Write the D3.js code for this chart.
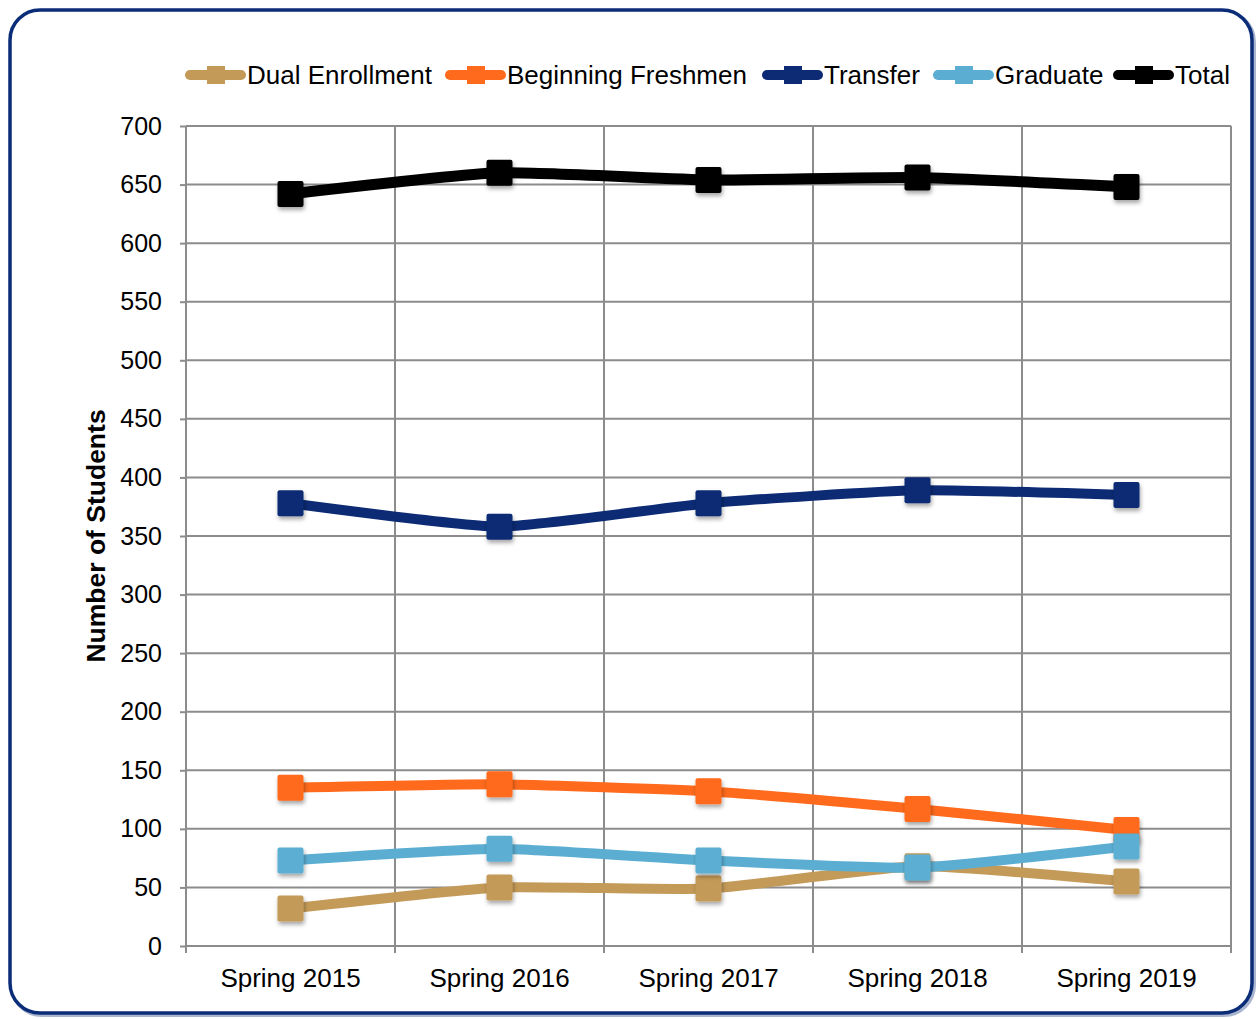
<!DOCTYPE html>
<html>
<head>
<meta charset="utf-8">
<script src="https://cdn.jsdelivr.net/npm/d3@7"></script>
<style>
  body { margin: 0; background: #fff; }
  svg { display: block; font-family: "Liberation Sans", Arial, sans-serif; }
</style>
</head>
<body>
<svg id="chart" width="1260" height="1019"></svg>
<script>
// chart values
const terms = ["Spring 2015", "Spring 2016", "Spring 2017", "Spring 2018", "Spring 2019"];
const seriesNames = ["Dual Enrollment", "Beginning Freshmen", "Transfer", "Graduate", "Total"];
const dualEnrollment = [32, 50, 49, 68, 55];
const beginningFreshmen = [135, 138, 132, 117, 99];
const transfer = [378, 358, 378, 389, 385];
const graduate = [73, 83, 73, 67, 85];
const total = [642, 660, 654, 656, 648];
const yTicks = [0, 50, 100, 150, 200, 250, 300, 350, 400, 450, 500, 550, 600, 650, 700];

const colors = ["#C49A58", "#FF6A1C", "#0C2B74", "#5BAED2", "#000000"];
const values = [dualEnrollment, beginningFreshmen, transfer, graduate, total];

const svg = d3.select('#chart');
const plotLeft = 186, plotRight = 1231, plotTop = 126, plotBottom = 946;

// shadow filter for markers
const defs = svg.append('defs');
const f = defs.append('filter').attr('id', 'shadow')
    .attr('x', '-30%').attr('y', '-30%').attr('width', '160%').attr('height', '160%');
f.append('feDropShadow').attr('dx', 1).attr('dy', 3).attr('stdDeviation', 2)
    .attr('flood-color', '#000').attr('flood-opacity', 0.35);

// outer frame (with a soft shadow on the bottom/right)
svg.append('rect')
    .attr('x', 12).attr('y', 12).attr('width', 1242).attr('height', 1003)
    .attr('rx', 30).attr('ry', 30)
    .attr('fill', 'none').attr('stroke', '#0B2D78').attr('stroke-opacity', 0.35).attr('stroke-width', 4);
svg.append('rect')
    .attr('x', 10).attr('y', 10).attr('width', 1242).attr('height', 1003)
    .attr('rx', 30).attr('ry', 30)
    .attr('fill', '#fff').attr('stroke', '#0B2D78').attr('stroke-width', 3.5);

const xScale = d3.scaleBand().domain(terms).range([plotLeft, plotRight]);
const yScale = d3.scaleLinear().domain([0, 700]).range([plotBottom, plotTop]);

// gridlines
svg.append('g').selectAll('line')
    .data(yTicks.filter(d => d > 0))
    .enter().append('line')
    .attr('x1', plotLeft).attr('x2', plotRight)
    .attr('y1', d => yScale(d)).attr('y2', d => yScale(d))
    .attr('stroke', '#8c8c8c').attr('stroke-width', 2);

const bounds = terms.map(t => xScale(t)).concat([plotRight]);
svg.append('g').selectAll('line')
    .data(bounds.slice(1))
    .enter().append('line')
    .attr('x1', d => d).attr('x2', d => d)
    .attr('y1', plotTop).attr('y2', plotBottom)
    .attr('stroke', '#8c8c8c').attr('stroke-width', 2);

// y axis
const yAxis = d3.axisLeft(yScale).tickValues(yTicks).tickSize(6).tickPadding(18);
const gy = svg.append('g')
    .attr('transform', 'translate(' + plotLeft + ',0)')
    .call(yAxis);
gy.select('.domain').remove();
gy.append('line').attr('x1', 0).attr('x2', 0).attr('y1', plotTop).attr('y2', plotBottom);
gy.selectAll('line').attr('stroke', '#8c8c8c').attr('stroke-width', 2);
gy.selectAll('text').attr('font-size', '25px').attr('fill', '#000')
    .attr('font-family', '"Liberation Sans", Arial, sans-serif');

// x axis
const gx = svg.append('g').attr('transform', 'translate(0,' + plotBottom + ')');
gx.append('line').attr('x1', plotLeft).attr('x2', plotRight).attr('y1', 0).attr('y2', 0)
    .attr('stroke', '#8c8c8c').attr('stroke-width', 2);
gx.selectAll('line.tick')
    .data(bounds)
    .enter().append('line')
    .attr('class', 'tick')
    .attr('x1', d => d).attr('x2', d => d).attr('y1', 0).attr('y2', 7)
    .attr('stroke', '#8c8c8c').attr('stroke-width', 2);
gx.selectAll('text')
    .data(terms)
    .enter().append('text')
    .attr('x', d => xScale(d) + xScale.bandwidth() / 2)
    .attr('y', 41)
    .attr('text-anchor', 'middle')
    .attr('font-size', '26px')
    .text(d => d);

// y title
svg.append('text')
    .attr('transform', 'translate(105,' + ((plotTop + plotBottom) / 2) + ') rotate(-90)')
    .attr('text-anchor', 'middle')
    .attr('font-size', '26.5px').attr('font-weight', 'bold')
    .text('Number of Students');

// series lines - smoothed like the original
const line = d3.line()
    .x((d, i) => xScale(terms[i]) + xScale.bandwidth() / 2)
    .y(d => yScale(d))
    .curve(d3.curveCardinal.tension(0.5));

values.forEach(function(vals, k) {
    const g = svg.append('g');
    g.append('path')
        .datum(vals)
        .attr('d', line)
        .attr('fill', 'none')
        .attr('stroke', colors[k])
        .attr('stroke-width', k == 4 ? 11 : 10)
        .attr('stroke-linejoin', 'round');
    g.selectAll('rect')
        .data(vals)
        .enter().append('rect')
        .attr('x', (d, i) => xScale(terms[i]) + xScale.bandwidth() / 2 - 13)
        .attr('y', d => yScale(d) - 13)
        .attr('width', 26).attr('height', 26).attr('rx', 2)
        .attr('fill', colors[k])
        .attr('filter', 'url(#shadow)');
});

// legend
const legendX = [185, 445, 762, 933, 1113];
const legend = svg.append('g');
seriesNames.forEach(function(name, k) {
    const lg = legend.append('g').attr('transform', 'translate(' + legendX[k] + ',75)');
    lg.append('line').attr('x1', 5).attr('x2', 56).attr('y1', 0).attr('y2', 0)
        .attr('stroke', colors[k]).attr('stroke-width', 10).attr('stroke-linecap', 'round');
    lg.append('rect').attr('x', 22).attr('y', -9).attr('width', 18).attr('height', 18)
        .attr('fill', colors[k]);
    lg.append('text').attr('x', 62).attr('y', 9)
        .attr('font-size', '26px').text(name);
});
</script>
</body>
</html>
